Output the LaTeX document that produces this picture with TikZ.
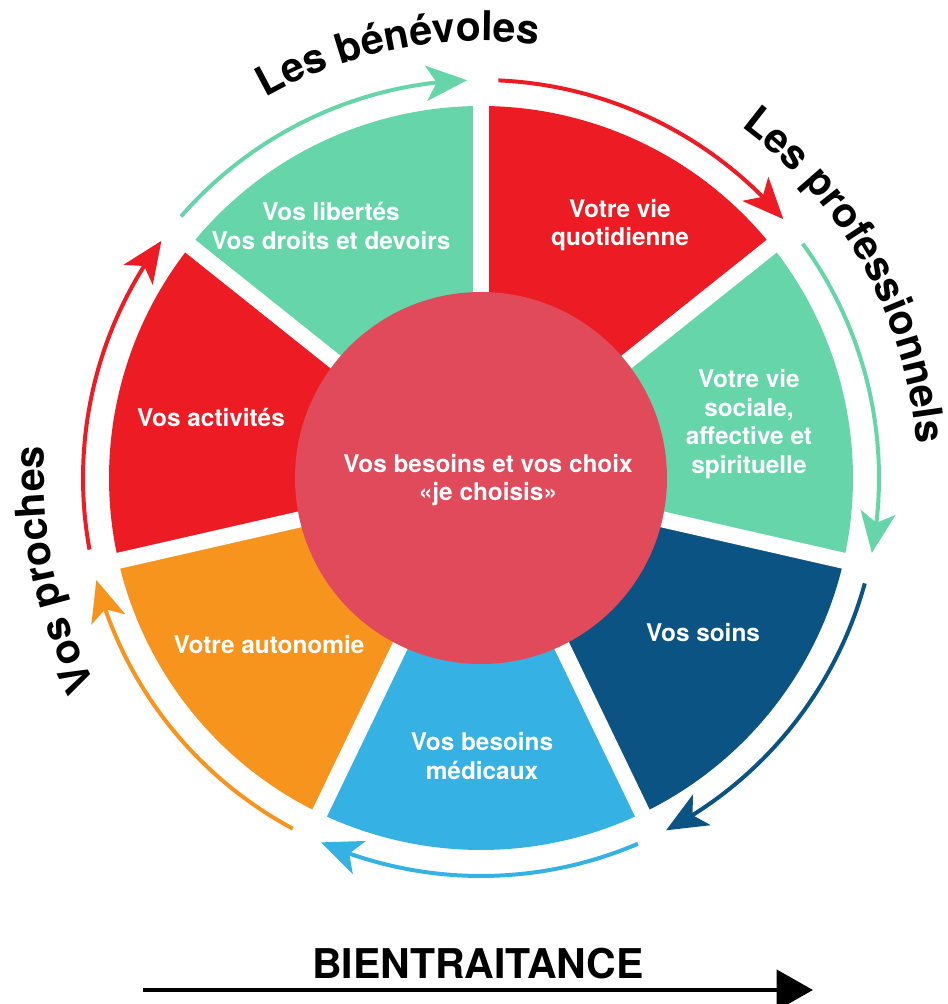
\documentclass[tikz,border=0pt]{standalone}
\usepackage{fontspec}
\setmainfont{TeX Gyre Heros}
\usetikzlibrary{arrows.meta,bending,decorations.text}

\definecolor{rouge}{RGB}{237,28,36}
\definecolor{vert}{RGB}{102,214,170}
\definecolor{bleufonce}{RGB}{10,83,130}
\definecolor{bleuclair}{RGB}{53,177,227}
\definecolor{orangeA}{RGB}{247,148,29}
\definecolor{rose}{RGB}{224,74,90}

\newcommand{\etiqfont}{\bfseries\fontsize{35}{40}\selectfont}

\tikzset{
  secteur/.style={font=\bfseries\fontsize{20.8}{24.5}\selectfont, text=white, align=center},
  fleche/.style={line width=3.4pt, -{Stealth[length=35pt,width=30pt,inset=9pt]}},
  etiquette/.style={decorate, decoration={text along path, text align=center, text={|\etiqfont|#1}}}
}

\begin{document}
\begin{tikzpicture}[x=0.3mm,y=0.3mm]
  \useasboundingbox (-481,-526) rectangle (466,478);
  % sectors
  \foreach \c [count=\i from 0, evaluate=\i as \a using 90-\i*360/7] in {rouge,vert,bleufonce,bleuclair,orangeA,rouge,vert}{
    \fill[\c] (0,0) -- (\a:372) arc[start angle=\a, end angle=\a-360/7, radius=372] -- cycle;
  }
  \foreach \i in {0,...,6}{
    \draw[white, line width=13.7pt] (0,0) -- ({90-\i*360/7}:380);
  }
  \fill[rose] (0,0) circle (186);
  % arrows round the wheel
  \foreach \c [count=\i from 0, evaluate=\i as \a using 90-\i*360/7] in {rouge,vert,bleufonce,bleuclair,orangeA,rouge,vert}{
    \draw[fleche, \c] ({\a-2.5}:398) arc[start angle=\a-2.5, end angle=\a-360/7+2, radius=398];
  }
  % labels along the wheel
  \path[etiquette={Les bénévoles}] (131:437) arc[start angle=131, end angle=71, radius=437];
  \path[etiquette={Les professionnels}] (60:437) arc[start angle=60, end angle=-2, radius=437];
  \path[etiquette={Vos proches}] (222:437) arc[start angle=222, end angle=162, radius=437];
  % texts
  \node[secteur] (quotidienne) at (139,253) {Votre vie\\quotidienne};
  \node[secteur] (sociale) at (268,54) {Votre vie\\sociale,\\affective et\\spirituelle};
  \node[secteur] (soins) at (222,-155) {Vos soins};
  \node[secteur] (medicaux) at (1,-278) {Vos besoins\\médicaux};
  \node[secteur] (autonomie) at (-212,-167) {Votre autonomie};
  \node[secteur] (activites) at (-270,61) {Vos activités};
  \node[secteur] (libertes) at (-150,252) {Vos libertés\\Vos droits et devoirs};
  \node[secteur] (choix) at (7,-2) {Vos besoins et vos choix\\«je choisis»};
  % bottom
  \node[font=\bfseries\fontsize{35}{40}\selectfont] (bien) at (-3,-486) {BIENTRAITANCE};
  \coordinate (debut) at (-338,-512);
  \coordinate (fin) at (332,-512);
  \draw[line width=4pt, -{Triangle[length=31pt,width=34pt]}] (debut) -- (fin);
\end{tikzpicture}
\end{document}
